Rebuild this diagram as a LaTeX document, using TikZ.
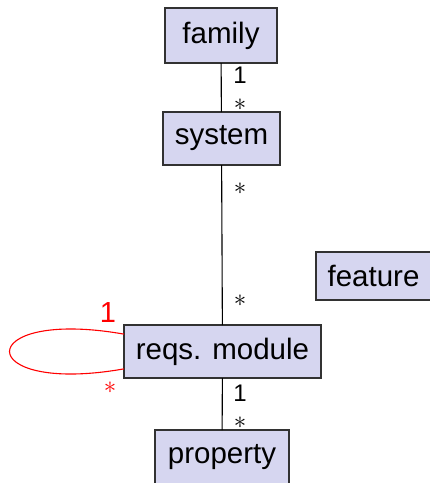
\documentclass[tikz,border=0pt]{standalone}
\usepackage{fontspec}
\setmainfont{Liberation Sans}
\usepackage{tikz}
\definecolor{boxfill}{RGB}{214,214,240}
\definecolor{boxline}{RGB}{50,50,50}
\tikzset{
    every node/.style={inner sep=0pt, outer sep=0pt}
}
\tikzset{
    cls/.style={rectangle, draw=boxline, fill=boxfill, line width=1.2pt,
    	minimum height=53pt, font=\fontsize{29.5}{35}\selectfont}
}
\tikzset{
    mult/.style={font=\fontsize{24}{26}\selectfont},
    every edge/.append style={line width=1.1pt}
}

\begin{document}
\begin{tikzpicture}[x=1pt, y=-1pt]
	\useasboundingbox (0,0) rectangle (430,483);
	\node (family) [cls, minimum width=112pt, minimum height=55pt] at (221.0,  35.5) {family};
	\node (system) [cls, minimum width=117pt] at (221.5, 138.5) {system};
	\node (feature) [cls, minimum width=115pt, minimum height=48pt] at (373.5, 276.0) {feature};
	\node (rm) [cls, minimum width=197pt] at (222.5, 351.5) {reqs. module};
	\node (property) [cls, minimum width=134pt, minimum height=55pt] at (222.0, 457.5) {property};

	\node (m1) [mult] at (240,  75) {1};
	\node (m2) [mult] at (240, 105) {$\ast$};
	\node (m3) [mult] at (240, 189) {$\ast$};
	\node (m4) [mult] at (240, 301) {$\ast$};
	\node (m5) [mult] at (240, 393) {1};
	\node (m6) [mult] at (240, 423) {$\ast$};
	\node (m7) [mult, red, font=\fontsize{29}{32}\selectfont] at (108, 313) {1};
	\node (m8) [mult, red, font=\fontsize{31}{34}\selectfont] at (110, 388) {$\ast$};

	\draw (family) edge (system); \draw (system) edge (rm);
	\draw (rm) edge (property);
	\draw[red] (rm.170) edge[out=170, in=190, distance=155pt] (rm.190);
\end{tikzpicture}
\end{document}
